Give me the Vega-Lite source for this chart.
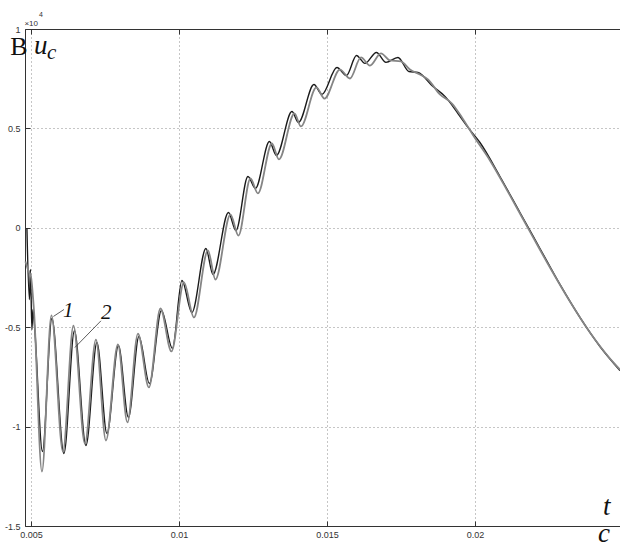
{
  "$schema": "https://vega.github.io/schema/vega-lite/v6.json",
  "width": 595,
  "height": 497,
  "autosize": {"type": "none"},
  "padding": {"left": 25, "top": 29, "right": 0, "bottom": 19},
  "background": "white",
  "config": {
    "view": {"stroke": null},
    "axis": {
      "labelFont": "Liberation Sans",
      "labelFontSize": 9,
      "labelColor": "#333333",
      "tickColor": "#333333",
      "domainColor": "#333333",
      "tickSize": -5,
      "labelFlush": false,
      "labelBound": false,
      "labelOverlap": false,
      "gridColor": "#8c8c8c",
      "gridDash": [1, 3],
      "gridWidth": 1
    }
  },
  "datasets": {
    "curves": [
      {"series": "1", "t": 0.004865, "v": -0.004},
      {"series": "1", "t": 0.004949, "v": -0.361},
      {"series": "1", "t": 0.004983, "v": -0.210},
      {"series": "1", "t": 0.005034, "v": -0.512},
      {"series": "1", "t": 0.005068, "v": -0.411},
      {"series": "1", "t": 0.005118, "v": -0.486},
      {"series": "1", "t": 0.005389, "v": -1.125},
      {"series": "1", "t": 0.005709, "v": -0.456},
      {"series": "1", "t": 0.006115, "v": -1.135},
      {"series": "1", "t": 0.006470, "v": -0.517},
      {"series": "1", "t": 0.006858, "v": -1.095},
      {"series": "1", "t": 0.007230, "v": -0.577},
      {"series": "1", "t": 0.007568, "v": -1.035},
      {"series": "1", "t": 0.007956, "v": -0.592},
      {"series": "1", "t": 0.008294, "v": -0.954},
      {"series": "1", "t": 0.008649, "v": -0.547},
      {"series": "1", "t": 0.009003, "v": -0.783},
      {"series": "1", "t": 0.009409, "v": -0.416},
      {"series": "1", "t": 0.009780, "v": -0.607},
      {"series": "1", "t": 0.010101, "v": -0.265},
      {"series": "1", "t": 0.010439, "v": -0.426},
      {"series": "1", "t": 0.010912, "v": -0.104},
      {"series": "1", "t": 0.011149, "v": -0.235},
      {"series": "1", "t": 0.011672, "v": 0.077},
      {"series": "1", "t": 0.011926, "v": -0.014},
      {"series": "1", "t": 0.012331, "v": 0.258},
      {"series": "1", "t": 0.012585, "v": 0.198},
      {"series": "1", "t": 0.013057, "v": 0.434},
      {"series": "1", "t": 0.013294, "v": 0.364},
      {"series": "1", "t": 0.013818, "v": 0.585},
      {"series": "1", "t": 0.014037, "v": 0.530},
      {"series": "1", "t": 0.014561, "v": 0.721},
      {"series": "1", "t": 0.014831, "v": 0.671},
      {"series": "1", "t": 0.015338, "v": 0.806},
      {"series": "1", "t": 0.015659, "v": 0.766},
      {"series": "1", "t": 0.015997, "v": 0.867},
      {"series": "1", "t": 0.016284, "v": 0.827},
      {"series": "1", "t": 0.016672, "v": 0.882},
      {"series": "1", "t": 0.016993, "v": 0.832},
      {"series": "1", "t": 0.017399, "v": 0.857},
      {"series": "1", "t": 0.017770, "v": 0.786},
      {"series": "1", "t": 0.018074, "v": 0.781},
      {"series": "1", "t": 0.018581, "v": 0.711},
      {"series": "1", "t": 0.018987, "v": 0.661},
      {"series": "1", "t": 0.019426, "v": 0.575},
      {"series": "1", "t": 0.019764, "v": 0.505},
      {"series": "1", "t": 0.020169, "v": 0.429},
      {"series": "1", "t": 0.020845, "v": 0.258},
      {"series": "1", "t": 0.021520, "v": 0.077},
      {"series": "1", "t": 0.022196, "v": -0.104},
      {"series": "1", "t": 0.022872, "v": -0.285},
      {"series": "1", "t": 0.023547, "v": -0.451},
      {"series": "1", "t": 0.024223, "v": -0.597},
      {"series": "1", "t": 0.024899, "v": -0.718},
      {"series": "2", "t": 0.004814, "v": -0.170},
      {"series": "2", "t": 0.004899, "v": -0.210},
      {"series": "2", "t": 0.005000, "v": -0.245},
      {"series": "2", "t": 0.005101, "v": -0.411},
      {"series": "2", "t": 0.005372, "v": -1.226},
      {"series": "2", "t": 0.005693, "v": -0.441},
      {"series": "2", "t": 0.006081, "v": -1.125},
      {"series": "2", "t": 0.006436, "v": -0.492},
      {"series": "2", "t": 0.006824, "v": -1.085},
      {"series": "2", "t": 0.007196, "v": -0.562},
      {"series": "2", "t": 0.007534, "v": -1.070},
      {"series": "2", "t": 0.007939, "v": -0.587},
      {"series": "2", "t": 0.008260, "v": -0.979},
      {"series": "2", "t": 0.008615, "v": -0.532},
      {"series": "2", "t": 0.008986, "v": -0.803},
      {"series": "2", "t": 0.009375, "v": -0.406},
      {"series": "2", "t": 0.009747, "v": -0.622},
      {"series": "2", "t": 0.010169, "v": -0.275},
      {"series": "2", "t": 0.010507, "v": -0.451},
      {"series": "2", "t": 0.010980, "v": -0.114},
      {"series": "2", "t": 0.011233, "v": -0.260},
      {"series": "2", "t": 0.011740, "v": 0.067},
      {"series": "2", "t": 0.012010, "v": -0.039},
      {"series": "2", "t": 0.012416, "v": 0.248},
      {"series": "2", "t": 0.012669, "v": 0.173},
      {"series": "2", "t": 0.013142, "v": 0.424},
      {"series": "2", "t": 0.013378, "v": 0.344},
      {"series": "2", "t": 0.013902, "v": 0.575},
      {"series": "2", "t": 0.014122, "v": 0.510},
      {"series": "2", "t": 0.014645, "v": 0.706},
      {"series": "2", "t": 0.014916, "v": 0.650},
      {"series": "2", "t": 0.015439, "v": 0.796},
      {"series": "2", "t": 0.015777, "v": 0.751},
      {"series": "2", "t": 0.016149, "v": 0.857},
      {"series": "2", "t": 0.016453, "v": 0.816},
      {"series": "2", "t": 0.016824, "v": 0.877},
      {"series": "2", "t": 0.017128, "v": 0.842},
      {"series": "2", "t": 0.017500, "v": 0.837},
      {"series": "2", "t": 0.017804, "v": 0.796},
      {"series": "2", "t": 0.018142, "v": 0.771},
      {"series": "2", "t": 0.018412, "v": 0.746},
      {"series": "2", "t": 0.018818, "v": 0.671},
      {"series": "2", "t": 0.019223, "v": 0.625},
      {"series": "2", "t": 0.019561, "v": 0.555},
      {"series": "2", "t": 0.019966, "v": 0.459},
      {"series": "2", "t": 0.020507, "v": 0.339},
      {"series": "2", "t": 0.021182, "v": 0.163},
      {"series": "2", "t": 0.021858, "v": -0.019},
      {"series": "2", "t": 0.022534, "v": -0.200},
      {"series": "2", "t": 0.023209, "v": -0.371},
      {"series": "2", "t": 0.023885, "v": -0.527},
      {"series": "2", "t": 0.024561, "v": -0.658},
      {"series": "2", "t": 0.024899, "v": -0.713}
    ],
    "leaders": [
      {"t": 0.005760, "v": -0.446, "t2": 0.006115, "v2": -0.411},
      {"t": 0.006486, "v": -0.602, "t2": 0.007365, "v2": -0.468}
    ],
    "quantity": [
      {"t": 0.004595, "v": 0.867, "label": "B"}
    ],
    "bigItalic": [
      {"t": 0.005101, "v": 0.872, "label": "u"},
      {"t": 0.024324, "v": -1.447, "label": "t"},
      {"t": 0.024156, "v": -1.580, "label": "c"}
    ],
    "smallItalic": [
      {"t": 0.005541, "v": 0.847, "label": "c"},
      {"t": 0.006081, "v": -0.451, "label": "1"},
      {"t": 0.007365, "v": -0.461, "label": "2"}
    ],
    "multiplier": [
      {"t": 0.004780, "v": 1.013, "label": "×10"}
    ],
    "exponent": [
      {"t": 0.005270, "v": 1.058, "label": "4"}
    ]
  },
  "layer": [
    {
      "data": {"name": "curves"},
      "mark": {"type": "line", "interpolate": "monotone"},
      "encoding": {
        "x": {
          "field": "t", "type": "quantitative", "title": null,
          "scale": {"domain": [0.0048, 0.0249], "nice": false, "zero": false},
          "axis": {"orient": "bottom", "values": [0.005, 0.01, 0.015, 0.02], "labelExpr": "'' + datum.value", "labelPadding": 9, "grid": true, "title": null}
        },
        "y": {
          "field": "v", "type": "quantitative", "title": null,
          "scale": {"domain": [-1.5, 1], "nice": false, "zero": false},
          "axis": {"orient": "left", "values": [-1.5, -1, -0.5, 0, 0.5, 1], "labelExpr": "'' + datum.value", "labelPadding": 10, "grid": true, "title": null}
        },
        "color": {"field": "series", "type": "nominal", "scale": {"domain": ["1", "2"], "range": ["#1a1a1a", "#858585"]}, "legend": null},
        "strokeWidth": {"field": "series", "type": "ordinal", "scale": {"domain": ["1", "2"], "range": [1.4, 1.8]}, "legend": null}
      }
    },
    {
      "data": {"name": "leaders"},
      "mark": {"type": "rule", "color": "#333333", "strokeWidth": 0.8},
      "encoding": {
        "x": {"field": "t", "type": "quantitative", "title": null, "axis": {"orient": "top", "values": [0.005, 0.01, 0.015, 0.02], "labels": false, "grid": false, "title": null}},
        "y": {"field": "v", "type": "quantitative", "title": null},
        "x2": {"field": "t2"},
        "y2": {"field": "v2"}
      }
    },
    {
      "data": {"name": "quantity"},
      "mark": {"type": "text", "font": "Liberation Serif", "fontSize": 26, "align": "center", "baseline": "alphabetic", "color": "#111111"},
      "encoding": {
        "x": {"field": "t", "type": "quantitative", "title": null, "axis": null},
        "y": {"field": "v", "type": "quantitative", "title": null},
        "text": {"field": "label"}
      }
    },
    {
      "data": {"name": "bigItalic"},
      "mark": {"type": "text", "font": "Liberation Serif", "fontStyle": "italic", "fontSize": 27, "align": "left", "baseline": "alphabetic", "color": "#111111"},
      "encoding": {
        "x": {"field": "t", "type": "quantitative", "title": null, "axis": null},
        "y": {"field": "v", "type": "quantitative", "title": null},
        "text": {"field": "label"}
      }
    },
    {
      "data": {"name": "smallItalic"},
      "mark": {"type": "text", "font": "Liberation Serif", "fontStyle": "italic", "fontSize": 21, "align": "left", "baseline": "alphabetic", "color": "#111111"},
      "encoding": {
        "x": {"field": "t", "type": "quantitative", "title": null, "axis": null},
        "y": {"field": "v", "type": "quantitative", "title": null},
        "text": {"field": "label"}
      }
    },
    {
      "data": {"name": "multiplier"},
      "mark": {"type": "text", "font": "Liberation Sans", "fontSize": 8, "align": "left", "baseline": "alphabetic", "color": "#333333"},
      "encoding": {
        "x": {"field": "t", "type": "quantitative", "title": null, "axis": null},
        "y": {"field": "v", "type": "quantitative", "title": null},
        "text": {"field": "label"}
      }
    },
    {
      "data": {"name": "exponent"},
      "mark": {"type": "text", "font": "Liberation Sans", "fontSize": 7, "align": "left", "baseline": "alphabetic", "color": "#333333"},
      "encoding": {
        "x": {"field": "t", "type": "quantitative", "title": null, "axis": null},
        "y": {"field": "v", "type": "quantitative", "title": null},
        "text": {"field": "label"}
      }
    }
  ],
  "resolve": {"axis": {"x": "independent"}}
}
